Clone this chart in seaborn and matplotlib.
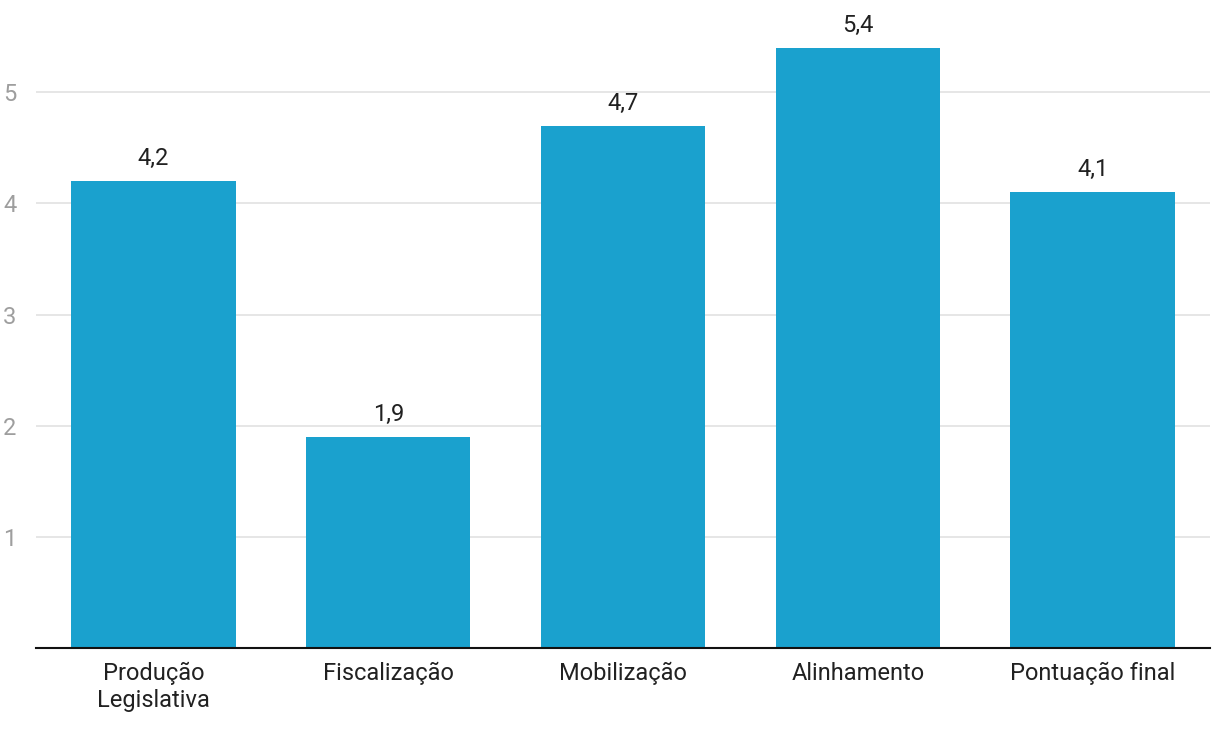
import matplotlib
matplotlib.use("Agg")
import matplotlib.pyplot as plt
import pandas as pd
import seaborn as sns

categories = ["Produção\nLegislativa", "Fiscalização", "Mobilização", "Alinhamento", "Pontuação final"]
scores = [4.2, 1.9, 4.7, 5.4, 4.1]
y_ticks = [1, 2, 3, 4, 5]

df = pd.DataFrame({"categoria": categories, "nota": scores})

sns.set_style("white")
plt.rcParams["font.family"] = ["Roboto", "DejaVu Sans"]

fig = plt.figure(figsize=(12.2, 7.3), dpi=100)
ax = fig.add_axes([0.0295, 0.1123, 0.9623, 0.8877])

sns.barplot(data=df, x="categoria", y="nota", color="#1aa1ce", width=0.7,
            saturation=1, linewidth=0, edgecolor="none", ax=ax)

ax.set_ylim(0, 5.83)
ax.set_yticks(y_ticks)
ax.set_yticklabels([str(t) for t in y_ticks])
ax.yaxis.grid(True, color="#e2e2e2", linewidth=1.2)
ax.set_axisbelow(True)

for side in ["top", "right", "left"]:
    ax.spines[side].set_visible(False)
ax.spines["bottom"].set_color("#111111")
ax.spines["bottom"].set_linewidth(1.5)

ax.tick_params(axis="y", length=0, pad=14, labelsize=17, labelcolor="#9e9e9e")
ax.tick_params(axis="x", length=0, pad=10, labelsize=17, labelcolor="#212121")
ax.set_xlabel("")
ax.set_ylabel("")

labels = [f"{v:.1f}".replace(".", ",") for v in scores]
ax.bar_label(ax.containers[0], labels=labels, padding=8, fontsize=17, color="#212121")

fig.savefig("out.png", dpi=100)
